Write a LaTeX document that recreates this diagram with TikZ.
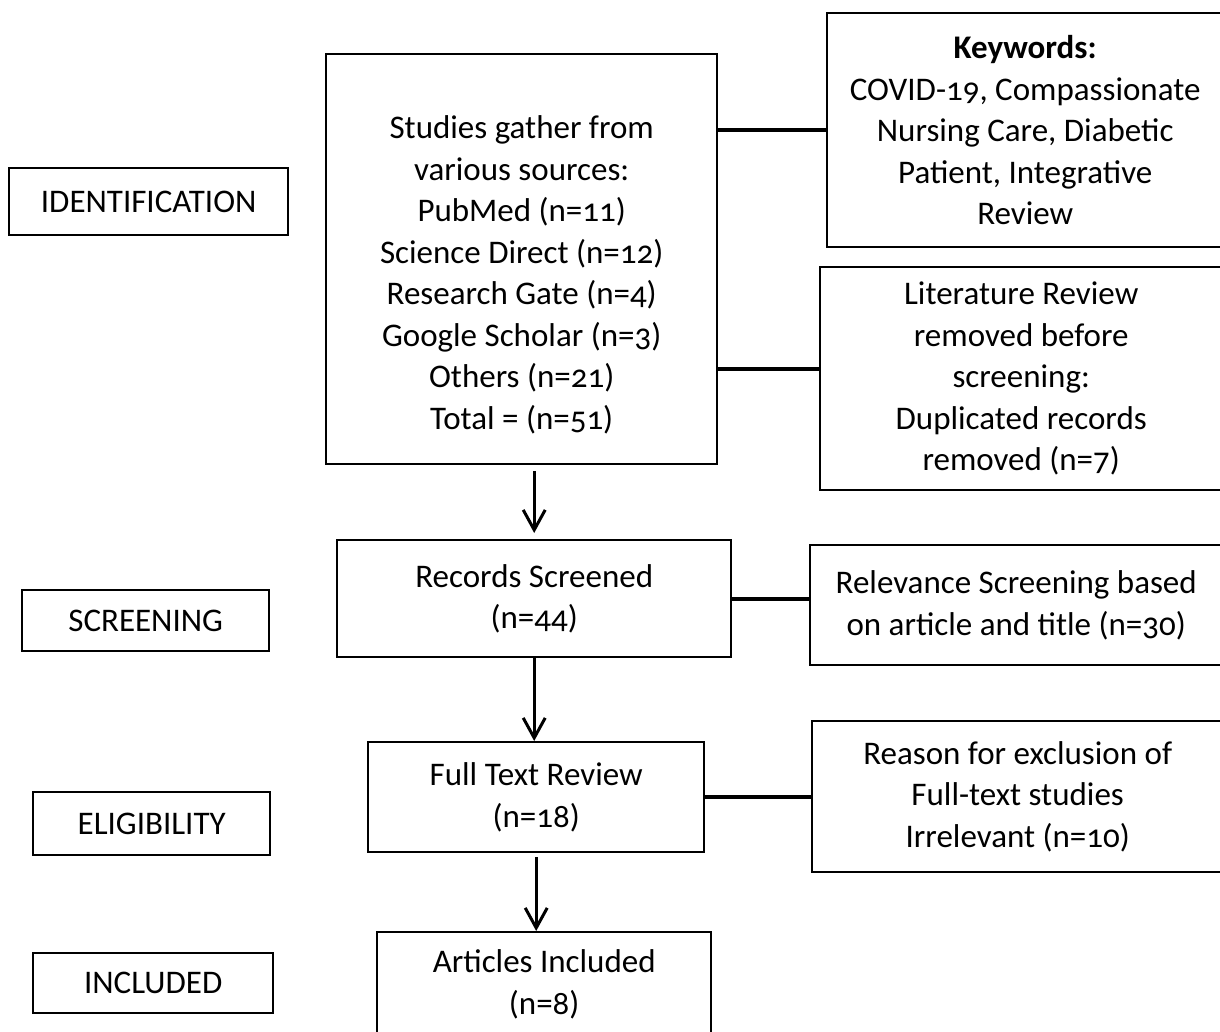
\documentclass[tikz,border=0pt]{standalone}
\usepackage{fontspec}
\setmainfont{Carlito}[Numbers=OldStyle]
\usetikzlibrary{arrows.meta}
\newcommand{\px}{0.5pt}

\begin{document}
\begin{tikzpicture}[x=\px, y=-\px,
    box/.style={draw, rectangle, anchor=north west, line width=1.2pt, align=center, inner sep=0pt, font=\fontsize{16.5}{20.75}\selectfont},
    link/.style={line width=2pt},
    flow/.style={line width=1.5pt, -{Straight Barb[length=10pt, width=11pt]}}]
    \useasboundingbox (0,0) rectangle (1220,1032);
    \clip (0,0) rectangle (1220,1032);

    % Stages
    \node[box, minimum width=279*\px, minimum height=67*\px] (identification) at (8,167) {IDENTIFICATION};
    \node[box, minimum width=247*\px, minimum height=61*\px] (screening) at (21,589) {SCREENING};
    \node[box, minimum width=237*\px, minimum height=63*\px] (eligibility) at (32,791) {ELIGIBILITY};
    \node[box, minimum width=240*\px, minimum height=60*\px] (included) at (32,952) {INCLUDED};

    % Main column
    \node[box, minimum width=391*\px, minimum height=410*\px] (studies) at (325,53) {\rule{0pt}{27pt}Studies gather from\\various sources:\\PubMed (n=11)\\Science Direct (n=12)\\Research Gate (n=4)\\Google Scholar (n=3)\\Others (n=21)\\Total = (n=51)};
    \node[box, minimum width=394*\px, minimum height=117*\px] (records) at (336,539) {Records Screened\\(n=44)};
    \node[box, minimum width=336*\px, minimum height=110*\px] (fulltext) at (367,741) {Full Text Review\\(n=18)};
    \node[box, minimum width=334*\px, minimum height=104*\px] (articles) at (376,931) {Articles Included\\(n=8)};

    % Side boxes
    \node[box, minimum width=396*\px, minimum height=234*\px] (keywords) at (826,12) {\textbf{Keywords:}\\COVID-19, Compassionate\\Nursing Care, Diabetic\\Patient, Integrative\\Review};
    \node[box, minimum width=402*\px, minimum height=223*\px] (literature) at (819,266) {Literature Review\\removed before\\screening:\\Duplicated records\\removed (n=7)};
    \node[box, minimum width=412*\px, minimum height=120*\px] (relevance) at (809,544) {Relevance Screening based\\on article and title (n=30)};
    \node[box, minimum width=411*\px, minimum height=151*\px] (reason) at (811,720) {Reason for exclusion of\\Full-text studies\\Irrelevant (n=10)};

    % Connectors
    \coordinate (litin) at ([yshift=5pt]literature.west);
    \draw[link] (studies.east |- keywords.west) -- (keywords.west);
    \draw[link] (studies.east |- litin) -- (litin);
    \draw[link] (records.east) -- (records.east -| relevance.west);
    \draw[link] (fulltext.east) -- (fulltext.east -| reason.west);

    \draw[flow, shorten <=3pt, shorten >=3pt] (records.north |- studies.south) -- (records.north);
    \draw[flow] (records.south) -- (records.south |- fulltext.north);
    \draw[flow, shorten <=2pt] (fulltext.south) -- (fulltext.south |- articles.north);

\end{tikzpicture}
\end{document}
